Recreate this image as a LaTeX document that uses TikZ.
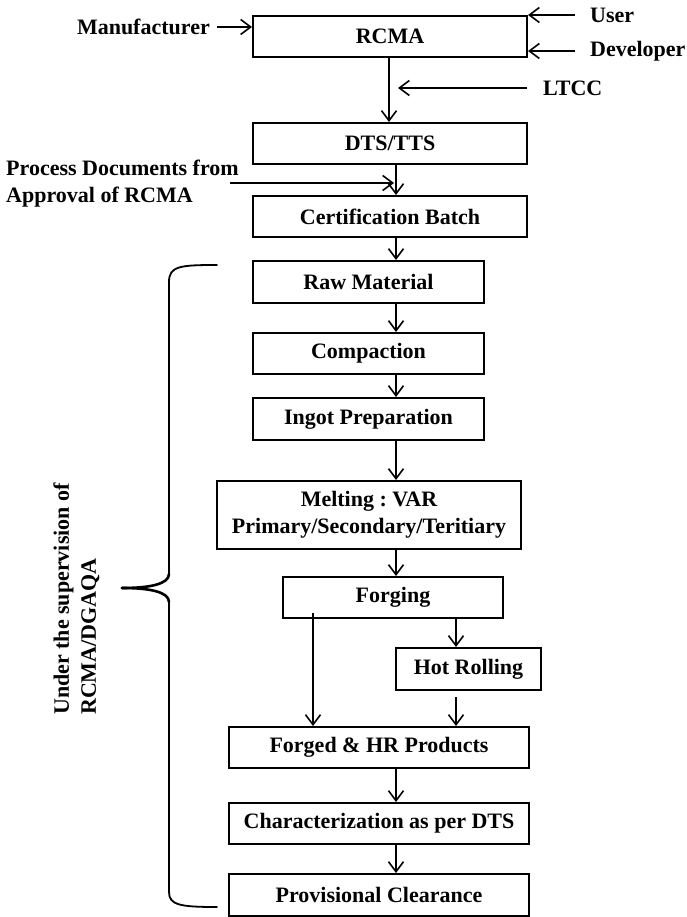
\documentclass[tikz,border=0pt]{standalone}
\usepackage{fontspec}
\setmainfont{Liberation Serif}
\usetikzlibrary{arrows.meta}
\frenchspacing
\begin{document}
\begin{tikzpicture}[x=1pt,y=-1pt,
  every node/.append style={font=\fontsize{22}{27}\selectfont\bfseries},
  box/.style={draw, line width=2pt, inner sep=0pt, align=center},
  lbl/.style={inner sep=0pt, align=left},
  arr/.style={line width=1.6pt, -{Straight Barb[length=10pt,width=15pt,line width=1.6pt]}},
  brace/.style={line width=1.8pt, line cap=round},
  bracetip/.style={line width=2.6pt, line cap=round}]
\useasboundingbox (0,0) rectangle (686,917);

% process boxes
\node[box, minimum width=274pt, minimum height=41pt] (rcma)  at (390,36.5)  {RCMA};
\node[box, minimum width=274pt, minimum height=41pt] (dts)   at (390,143.5) {DTS/TTS};
\node[box, minimum width=274pt, minimum height=41pt] (cert)  at (390,216.5) {Certification Batch};
\node[box, minimum width=231pt, minimum height=42pt] (raw)   at (368.5,282) {Raw Material};
\node[box, minimum width=231pt, minimum height=41pt] (comp)  at (368.5,353.5) {Compaction};
\node[box, minimum width=231pt, minimum height=42pt] (ingot) at (368.5,419) {Ingot Preparation};
\node[box, minimum width=304pt, minimum height=68pt] (melt)  at (369,515) {Melting : VAR\\Primary/Secondary/Teritiary};
\node[box, minimum width=220pt, minimum height=41pt] (forg)  at (393,597.5) {Forging};
\node[box, minimum width=145pt, minimum height=42pt] (hot)   at (468.5,669) {Hot Rolling};
\node[box, minimum width=300pt, minimum height=41pt] (fhr)   at (379,747.5) {Forged \& HR Products};
\node[box, minimum width=300pt, minimum height=41pt] (char)  at (379,823.5) {Characterization as per DTS};
\node[box, minimum width=300pt, minimum height=42pt] (prov)  at (379,895) {Provisional Clearance};

% inputs
\node[lbl, anchor=east] (manu) at (210,27) {Manufacturer};
\node[lbl, anchor=west] (user) at (590,15) {User};
\node[lbl, anchor=west] (dev)  at (590,51) {Developer};
\node[lbl, anchor=west] (ltcc) at (543,88) {LTCC};
\node[lbl, anchor=west] (proc) at (6,183.5) {Process Documents from\\Approval of RCMA};
\node[lbl, rotate=90, anchor=west] (sup) at (76.5,715) {Under the supervision of\\RCMA/DGAQA};

% column positions of the flow
\coordinate (bx) at (389,0);
\coordinate (ax) at (396,0);
\coordinate (lx) at (313,613);
\coordinate (hx) at (456,0);
\coordinate (ltccend) at (398,88);
\coordinate (pstart) at (230,183);
\coordinate (pend) at (394,183);

% side arrows
\draw[arr] ([xshift=7pt]manu.east) -- (rcma.west |- manu.east);
\draw[arr] ([xshift=-15pt]user.west) -- (user.west -| rcma.east);
\draw[arr] ([xshift=-15pt]dev.west) -- (dev.west -| rcma.east);
\draw[arr] ([xshift=-16pt]ltcc.west) -- (ltccend);
\draw[arr] (pstart) -- (pend);

% main flow
\draw[arr] (rcma.south -| bx) -- (dts.north -| bx);
\draw[arr] (dts.south -| ax) -- (cert.north -| ax);
\draw[arr] (cert.south -| ax) -- (raw.north -| ax);
\draw[arr] (raw.south -| ax) -- (comp.north -| ax);
\draw[arr] (comp.south -| ax) -- (ingot.north -| ax);
\draw[arr] (ingot.south -| ax) -- (melt.north -| ax);
\draw[arr] (melt.south -| ax) -- (forg.north -| ax);
\draw[arr] (lx) -- (fhr.north -| lx);
\draw[arr] (forg.south -| hx) -- (hot.north -| hx);
\draw[arr] ([yshift=-6pt]hot.south -| hx) -- (fhr.north -| hx);
\draw[arr] (fhr.south -| ax) -- (char.north -| ax);
\draw[arr] (char.south -| ax) -- (prov.north -| ax);

% supervision brace
\draw[brace] (217,265) .. controls (180,265) and (169,266) .. (169,282)
  -- (169,574);
\draw[bracetip] (169,574) .. controls (169,584) and (150,588) .. (122,588);
\draw[bracetip] (122,588) .. controls (150,588) and (169,592) .. (169,602);
\draw[brace] (169,602) -- (169,892) .. controls (169,905) and (180,907) .. (217,907);
\end{tikzpicture}
\end{document}
